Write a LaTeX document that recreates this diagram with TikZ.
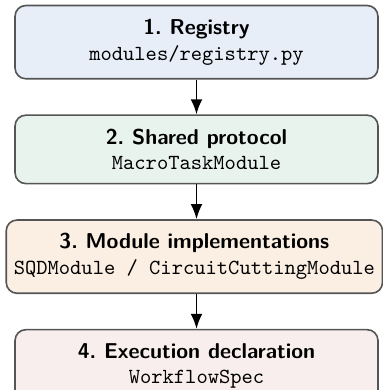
\documentclass[tikz,border=0pt]{standalone}
\usetikzlibrary{positioning,arrows.meta}
\definecolor{bordergray}{HTML}{555555}
\definecolor{fillA}{HTML}{E7EEF8}
\definecolor{fillB}{HTML}{E8F3EE}
\definecolor{fillC}{HTML}{FBEEE2}
\definecolor{fillD}{HTML}{F8EEEE}
\tikzset{
  stage/.style={draw=bordergray, line width=0.75pt, rounded corners=5pt,
    align=center, minimum width=168.8pt, inner xsep=3.5pt, inner ysep=6.3pt,
    font=\normalsize},
  flow/.style={-{Latex[length=7pt,width=5.5pt]}, line width=0.85pt, black},
}
\newcommand{\ttl}[1]{{\sffamily\bfseries #1}}
\newcommand{\cde}[1]{{\ttfamily #1}}
\begin{document}
\begin{tikzpicture}
\useasboundingbox (0,0) rectangle (178.1pt,-181.4pt);
\node[stage, fill=fillA] (s1) at (91.4pt,-19.6pt) {\ttl{1.\ Registry}\\\cde{modules/registry.py}};
\node[stage, fill=fillB, below=16.2pt of s1] (s2) {\ttl{2.\ Shared protocol}\\\cde{MacroTaskModule}};
\node[stage, fill=fillC, below=16.2pt of s2, xshift=-1pt] (s3) {\ttl{3.\ Module implementations}\\\cde{SQDModule / CircuitCuttingModule}};
\node[stage, fill=fillD, below=16.2pt of s3.south -| s2.south, anchor=north] (s4) {\ttl{4.\ Execution declaration}\\\cde{WorkflowSpec}};
\draw[flow] (s1.south) -- (s2.north);
\draw[flow] (s2.south) -- (s2.south |- s3.north);
\draw[flow] (s2.south |- s3.south) -- (s4.north);
\end{tikzpicture}
\end{document}
